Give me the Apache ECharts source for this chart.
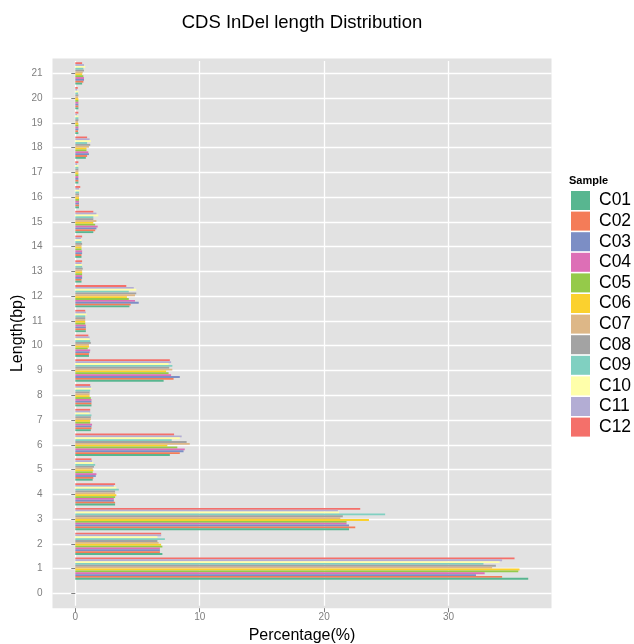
<!DOCTYPE html>
<html>
<head>
<meta charset="utf-8">
<script src="https://cdn.jsdelivr.net/npm/echarts@6/dist/echarts.min.js"></script>
<style>html,body{margin:0;padding:0;background:#fff;}#chart{width:634px;height:644px;}</style>
</head>
<body>
<div id="chart"></div>
<script>
const categories = ['0','1','2','3','4','5','6','7','8','9','10','11','12','13','14','15','16','17','18','19','20','21'];
const sampleNames = ['C01','C02','C03','C04','C05','C06','C07','C08','C09','C10','C11','C12'];
const C01 = [0, 36.4, 7.0, 22.0, 3.2, 1.4, 7.6, 1.25, 1.3, 7.1, 1.1, 0.85, 4.35, 0.5, 0.5, 1.45, 0.3, 0.25, 0.85, 0.25, 0.25, 0.55];
const C02 = [0, 34.3, 6.8, 22.5, 3.2, 1.45, 8.4, 1.3, 1.3, 7.9, 1.1, 0.85, 4.45, 0.5, 0.5, 1.6, 0.3, 0.25, 0.95, 0.22, 0.25, 0.65];
const C03 = [0, 32.2, 6.8, 22.0, 3.1, 1.65, 8.7, 1.3, 1.3, 8.4, 1.15, 0.85, 5.1, 0.55, 0.55, 1.7, 0.3, 0.25, 1.1, 0.25, 0.25, 0.7];
const C04 = [0, 32.9, 6.8, 21.8, 3.1, 1.7, 8.8, 1.35, 1.3, 7.7, 1.2, 0.85, 4.8, 0.55, 0.55, 1.8, 0.3, 0.25, 1.05, 0.25, 0.25, 0.7];
const C05 = [0, 35.6, 7.0, 21.8, 3.2, 1.4, 8.2, 1.2, 1.25, 7.5, 1.0, 0.8, 4.3, 0.55, 0.5, 1.6, 0.3, 0.25, 0.9, 0.25, 0.25, 0.65];
const C06 = [0, 35.7, 6.9, 23.6, 3.3, 1.45, 7.4, 1.2, 1.15, 7.3, 1.1, 0.8, 4.15, 0.55, 0.5, 1.45, 0.3, 0.25, 0.9, 0.25, 0.25, 0.55];
const C07 = [0, 33.5, 6.7, 21.3, 3.2, 1.4, 9.2, 1.25, 1.15, 7.8, 1.1, 0.8, 4.8, 0.55, 0.5, 1.7, 0.3, 0.25, 1.1, 0.22, 0.22, 0.6];
const C08 = [0, 33.8, 6.6, 21.5, 3.2, 1.5, 8.95, 1.25, 1.15, 7.55, 1.25, 0.8, 4.9, 0.6, 0.55, 1.45, 0.3, 0.25, 1.2, 0.25, 0.25, 0.7];
const C09 = [0, 32.8, 7.2, 24.9, 3.5, 1.6, 7.75, 1.3, 1.2, 7.8, 1.2, 0.8, 4.3, 0.55, 0.5, 1.45, 0.3, 0.25, 0.95, 0.25, 0.22, 0.65];
const C10 = [0, 34.1, 6.6, 21.2, 3.3, 1.45, 8.4, 1.15, 1.3, 7.5, 1.15, 0.9, 4.9, 0.55, 0.5, 1.85, 0.35, 0.25, 1.25, 0.25, 0.25, 0.8];
const C11 = [0, 34.3, 6.9, 21.1, 3.1, 1.35, 8.55, 1.2, 1.25, 7.7, 1.15, 0.85, 4.7, 0.5, 0.45, 1.7, 0.3, 0.15, 1.15, 0.15, 0.15, 0.7];
const C12 = [0, 35.3, 6.9, 22.9, 3.2, 1.3, 7.94, 1.2, 1.2, 7.6, 1.05, 0.8, 4.1, 0.55, 0.55, 1.45, 0.4, 0.25, 0.95, 0.25, 0.2, 0.55];
const xTickValues = [0, 10, 20, 30];

const seriesValues = [C01, C02, C03, C04, C05, C06, C07, C08, C09, C10, C11, C12];
const colors = ['#58B690','#F47C58','#7C8EC5','#DD6FB6','#95CA4A','#FBD12E','#DDB787','#A3A3A3','#80D0C1','#FFFFAA','#B3ADD4','#F4706A'];

const chart = echarts.init(document.getElementById('chart'), null, {renderer: 'canvas'});
const FONT = 'Liberation Sans, Arial, sans-serif';

// ECharts places the first horizontal-bar series at the top of each group; ggplot puts C01 at the bottom.
const order = sampleNames.map((_, i) => i).reverse();

chart.setOption({
  animation: false,
  backgroundColor: '#ffffff',
  title: [
    {text: 'CDS InDel length Distribution', left: 302, top: 13, padding: 0, textAlign: 'center',
     textStyle: {fontFamily: FONT, fontSize: 18.5, fontWeight: 'normal', color: '#000'}},
    {text: 'Sample', left: 569, top: 175, padding: 0,
     textStyle: {fontFamily: FONT, fontSize: 11, fontWeight: 'bold', color: '#000'}}
  ],
  graphic: [{type: 'rect', z: -10, silent: true, shape: {x: 52.5, y: 58.5, width: 499, height: 549.7}, style: {fill: '#E2E2E2'}}],
  legend: {
    orient: 'vertical', left: 571, top: 191, padding: 0, icon: 'rect', itemWidth: 19, itemHeight: 19, itemGap: 1.6,
    data: sampleNames,
    textStyle: {fontFamily: FONT, fontSize: 17.5, color: '#000', padding: [0, 0, 0, 4]}
  },
  grid: {left: 52.5, right: 82.5, top: 61, bottom: 38.3, containLabel: false, outerBoundsMode: 'none'},
  xAxis: {
    type: 'value', min: -1.83, max: 38.27, offset: 2.5,
    name: 'Percentage(%)', nameLocation: 'middle', nameGap: 19,
    nameTextStyle: {fontFamily: FONT, fontSize: 16, color: '#000'},
    axisLine: {show: false},
    axisTick: {show: true, length: 4, lineStyle: {color: '#7F7F7F'}, customValues: xTickValues},
    axisLabel: {fontFamily: FONT, fontSize: 10, color: '#7F7F7F', margin: 4, customValues: xTickValues},
    splitLine: {show: true, lineStyle: {color: '#ffffff', width: 1.3}}
  },
  yAxis: {
    type: 'category', data: categories,
    name: 'Length(bp)', nameLocation: 'middle', nameGap: 27, nameRotate: 90, nameMoveOverlap: false,
    nameTextStyle: {fontFamily: FONT, fontSize: 16, color: '#000'},
    axisLine: {show: false},
    axisTick: {show: true, length: 4, alignWithLabel: true, lineStyle: {color: '#7F7F7F'}},
    axisLabel: {fontFamily: FONT, fontSize: 10, color: '#7F7F7F', margin: 10},
    splitLine: {show: true, alignWithLabel: true, lineStyle: {color: '#ffffff', width: 1.3}}
  },
  series: order.map(i => ({
    name: sampleNames[i], type: 'bar', data: seriesValues[i],
    barGap: '0%', barCategoryGap: '10%',
    itemStyle: {color: colors[i]}
  }))
});
</script>
</body>
</html>
